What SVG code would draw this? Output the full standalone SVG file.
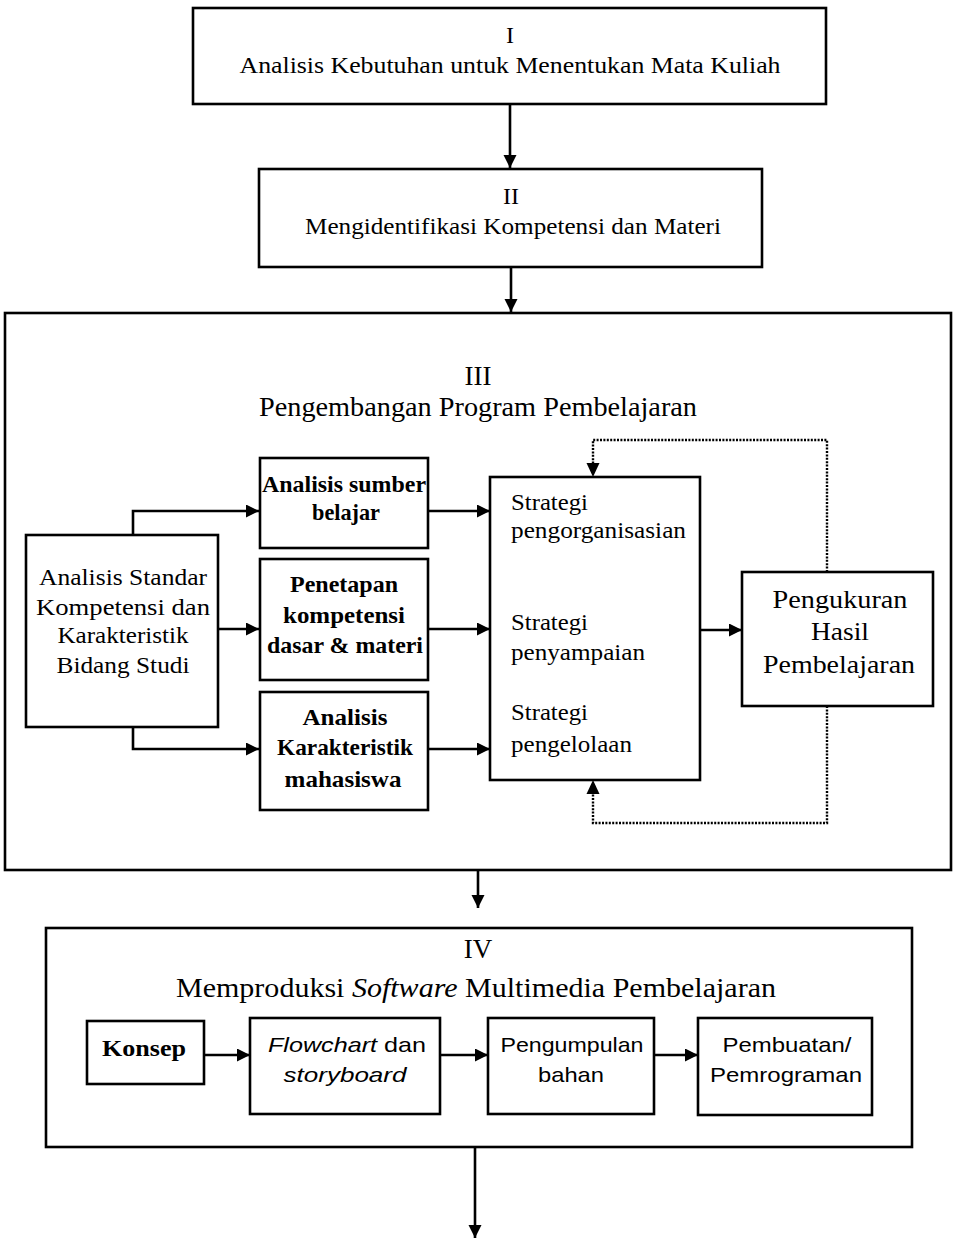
<svg xmlns="http://www.w3.org/2000/svg" width="954" height="1240" viewBox="0 0 954 1240">
<style>
.box{fill:#fff;stroke:#000;stroke-width:2.6}
.frame{fill:none;stroke:#000;stroke-width:2.6}
.ln{fill:none;stroke:#000;stroke-width:2.6}
.dot{fill:none;stroke:#000;stroke-width:2.4;stroke-dasharray:2 1.4}
.t{font-family:"Liberation Serif",serif;font-size:24px;fill:#000;text-anchor:middle}
.tl{font-family:"Liberation Serif",serif;font-size:23px;fill:#000}
.h{font-family:"Liberation Serif",serif;font-size:27px;fill:#000;text-anchor:middle}
.b{font-family:"Liberation Serif",serif;font-size:23px;font-weight:bold;fill:#000;text-anchor:middle}
.n{font-family:"Liberation Sans Narrow","Liberation Sans",sans-serif;font-size:21px;fill:#000;text-anchor:middle}
.m{font-family:"Liberation Serif",serif;font-size:26px;fill:#000;text-anchor:middle}
</style>
<defs>
<marker id="ah" markerUnits="userSpaceOnUse" markerWidth="14" markerHeight="14" refX="13" refY="6.5" orient="auto">
<path d="M0,0 L13,6.5 L0,13 z" fill="#000"/>
</marker>
</defs>

<g id="connectors">
<path class="ln" d="M510 104 V168" marker-end="url(#ah)"/>
<path class="ln" d="M511 267 V312" marker-end="url(#ah)"/>
<path class="ln" d="M133 535 V511 H259" marker-end="url(#ah)"/>
<path class="ln" d="M218 629 H259" marker-end="url(#ah)"/>
<path class="ln" d="M133 727 V749 H259" marker-end="url(#ah)"/>
<path class="ln" d="M428 511 H490" marker-end="url(#ah)"/>
<path class="ln" d="M428 629 H490" marker-end="url(#ah)"/>
<path class="ln" d="M428 749 H490" marker-end="url(#ah)"/>
<path class="ln" d="M700 630 H742" marker-end="url(#ah)"/>
<path class="dot" d="M827 572 V440 H593 V465"/>
<path d="M586.5 463 L599.5 463 L593 477 z" fill="#000"/>
<path class="dot" d="M827 706 V823 H593 V792"/>
<path d="M586.5 794 L599.5 794 L593 780 z" fill="#000"/>
<path class="ln" d="M478 870 V908" marker-end="url(#ah)"/>
<path class="ln" d="M204 1055 H250" marker-end="url(#ah)"/>
<path class="ln" d="M440 1055 H488" marker-end="url(#ah)"/>
<path class="ln" d="M654 1055 H698" marker-end="url(#ah)"/>
<path class="ln" d="M475 1147 V1238" marker-end="url(#ah)"/>
</g>

<g id="node-I">
<rect class="box" x="193" y="8" width="633" height="96"/>
<text class="t" x="510" y="43">I</text>
<text class="t" x="510" y="73" textLength="541" lengthAdjust="spacingAndGlyphs">Analisis Kebutuhan untuk Menentukan Mata Kuliah</text>
</g>

<g id="node-II">
<rect class="box" x="259" y="169" width="503" height="98"/>
<text class="t" x="511" y="204">II</text>
<text class="t" x="513" y="234" textLength="416" lengthAdjust="spacingAndGlyphs">Mengidentifikasi Kompetensi dan Materi</text>
</g>

<g id="node-III">
<rect class="frame" x="5" y="313" width="946" height="557"/>
<text class="h" x="478" y="385">III</text>
<text class="h" x="478" y="416" textLength="438" lengthAdjust="spacingAndGlyphs">Pengembangan Program Pembelajaran</text>
</g>

<g id="node-standar">
<rect class="box" x="26" y="535" width="192" height="192"/>
<text class="t" x="123" y="585" textLength="168" lengthAdjust="spacingAndGlyphs">Analisis Standar</text>
<text class="t" x="123" y="615" textLength="174" lengthAdjust="spacingAndGlyphs">Kompetensi dan</text>
<text class="t" x="123" y="643" textLength="131" lengthAdjust="spacingAndGlyphs">Karakteristik</text>
<text class="t" x="123" y="673" textLength="133" lengthAdjust="spacingAndGlyphs">Bidang Studi</text>
</g>

<g id="node-sumber">
<rect class="box" x="260" y="458" width="168" height="90"/>
<text class="b" x="344" y="492" textLength="164" lengthAdjust="spacingAndGlyphs">Analisis sumber</text>
<text class="b" x="346" y="520" textLength="68" lengthAdjust="spacingAndGlyphs">belajar</text>
</g>

<g id="node-penetapan">
<rect class="box" x="260" y="559" width="168" height="121"/>
<text class="b" x="344" y="592" textLength="108" lengthAdjust="spacingAndGlyphs">Penetapan</text>
<text class="b" x="344" y="623" textLength="122" lengthAdjust="spacingAndGlyphs">kompetensi</text>
<text class="b" x="345" y="653" textLength="156" lengthAdjust="spacingAndGlyphs">dasar &amp; materi</text>
</g>

<g id="node-karakteristik">
<rect class="box" x="260" y="692" width="168" height="118"/>
<text class="b" x="345" y="725" textLength="85" lengthAdjust="spacingAndGlyphs">Analisis</text>
<text class="b" x="345" y="755" textLength="136" lengthAdjust="spacingAndGlyphs">Karakteristik</text>
<text class="b" x="343" y="787" textLength="117" lengthAdjust="spacingAndGlyphs">mahasiswa</text>
</g>

<g id="node-strategi">
<rect class="box" x="490" y="477" width="210" height="303"/>
<text class="tl" x="511" y="510" textLength="77" lengthAdjust="spacingAndGlyphs">Strategi</text>
<text class="tl" x="511" y="538" textLength="175" lengthAdjust="spacingAndGlyphs">pengorganisasian</text>
<text class="tl" x="511" y="630" textLength="77" lengthAdjust="spacingAndGlyphs">Strategi</text>
<text class="tl" x="511" y="660" textLength="134" lengthAdjust="spacingAndGlyphs">penyampaian</text>
<text class="tl" x="511" y="720" textLength="77" lengthAdjust="spacingAndGlyphs">Strategi</text>
<text class="tl" x="511" y="752" textLength="121" lengthAdjust="spacingAndGlyphs">pengelolaan</text>
</g>

<g id="node-pengukuran">
<rect class="box" x="742" y="572" width="191" height="134"/>
<text class="m" x="840" y="608" textLength="135" lengthAdjust="spacingAndGlyphs">Pengukuran</text>
<text class="m" x="840" y="640" textLength="58" lengthAdjust="spacingAndGlyphs">Hasil</text>
<text class="m" x="839" y="673" textLength="152" lengthAdjust="spacingAndGlyphs">Pembelajaran</text>
</g>

<g id="node-IV">
<rect class="frame" x="46" y="928" width="866" height="219"/>
<text class="h" x="478" y="958">IV</text>
<text class="h" x="476" y="997" textLength="600" lengthAdjust="spacingAndGlyphs">Memproduksi <tspan font-style="italic">Software</tspan> Multimedia Pembelajaran</text>
</g>

<g id="node-konsep">
<rect class="box" x="87" y="1021" width="117" height="63"/>
<text class="b" x="144" y="1056" textLength="84" lengthAdjust="spacingAndGlyphs">Konsep</text>
</g>

<g id="node-flowchart">
<rect class="box" x="250" y="1018" width="190" height="96"/>
<text class="n" x="347" y="1052" textLength="158" lengthAdjust="spacingAndGlyphs"><tspan font-style="italic">Flowchart</tspan> dan</text>
<text class="n" x="345" y="1082" font-style="italic" textLength="123" lengthAdjust="spacingAndGlyphs">storyboard</text>
</g>

<g id="node-pengumpulan">
<rect class="box" x="488" y="1018" width="166" height="96"/>
<text class="n" x="572" y="1052" textLength="143" lengthAdjust="spacingAndGlyphs">Pengumpulan</text>
<text class="n" x="571" y="1082" textLength="66" lengthAdjust="spacingAndGlyphs">bahan</text>
</g>

<g id="node-pembuatan">
<rect class="box" x="698" y="1018" width="174" height="97"/>
<text class="n" x="787" y="1052" textLength="129" lengthAdjust="spacingAndGlyphs">Pembuatan/</text>
<text class="n" x="786" y="1082" textLength="152" lengthAdjust="spacingAndGlyphs">Pemrograman</text>
</g>
</svg>
